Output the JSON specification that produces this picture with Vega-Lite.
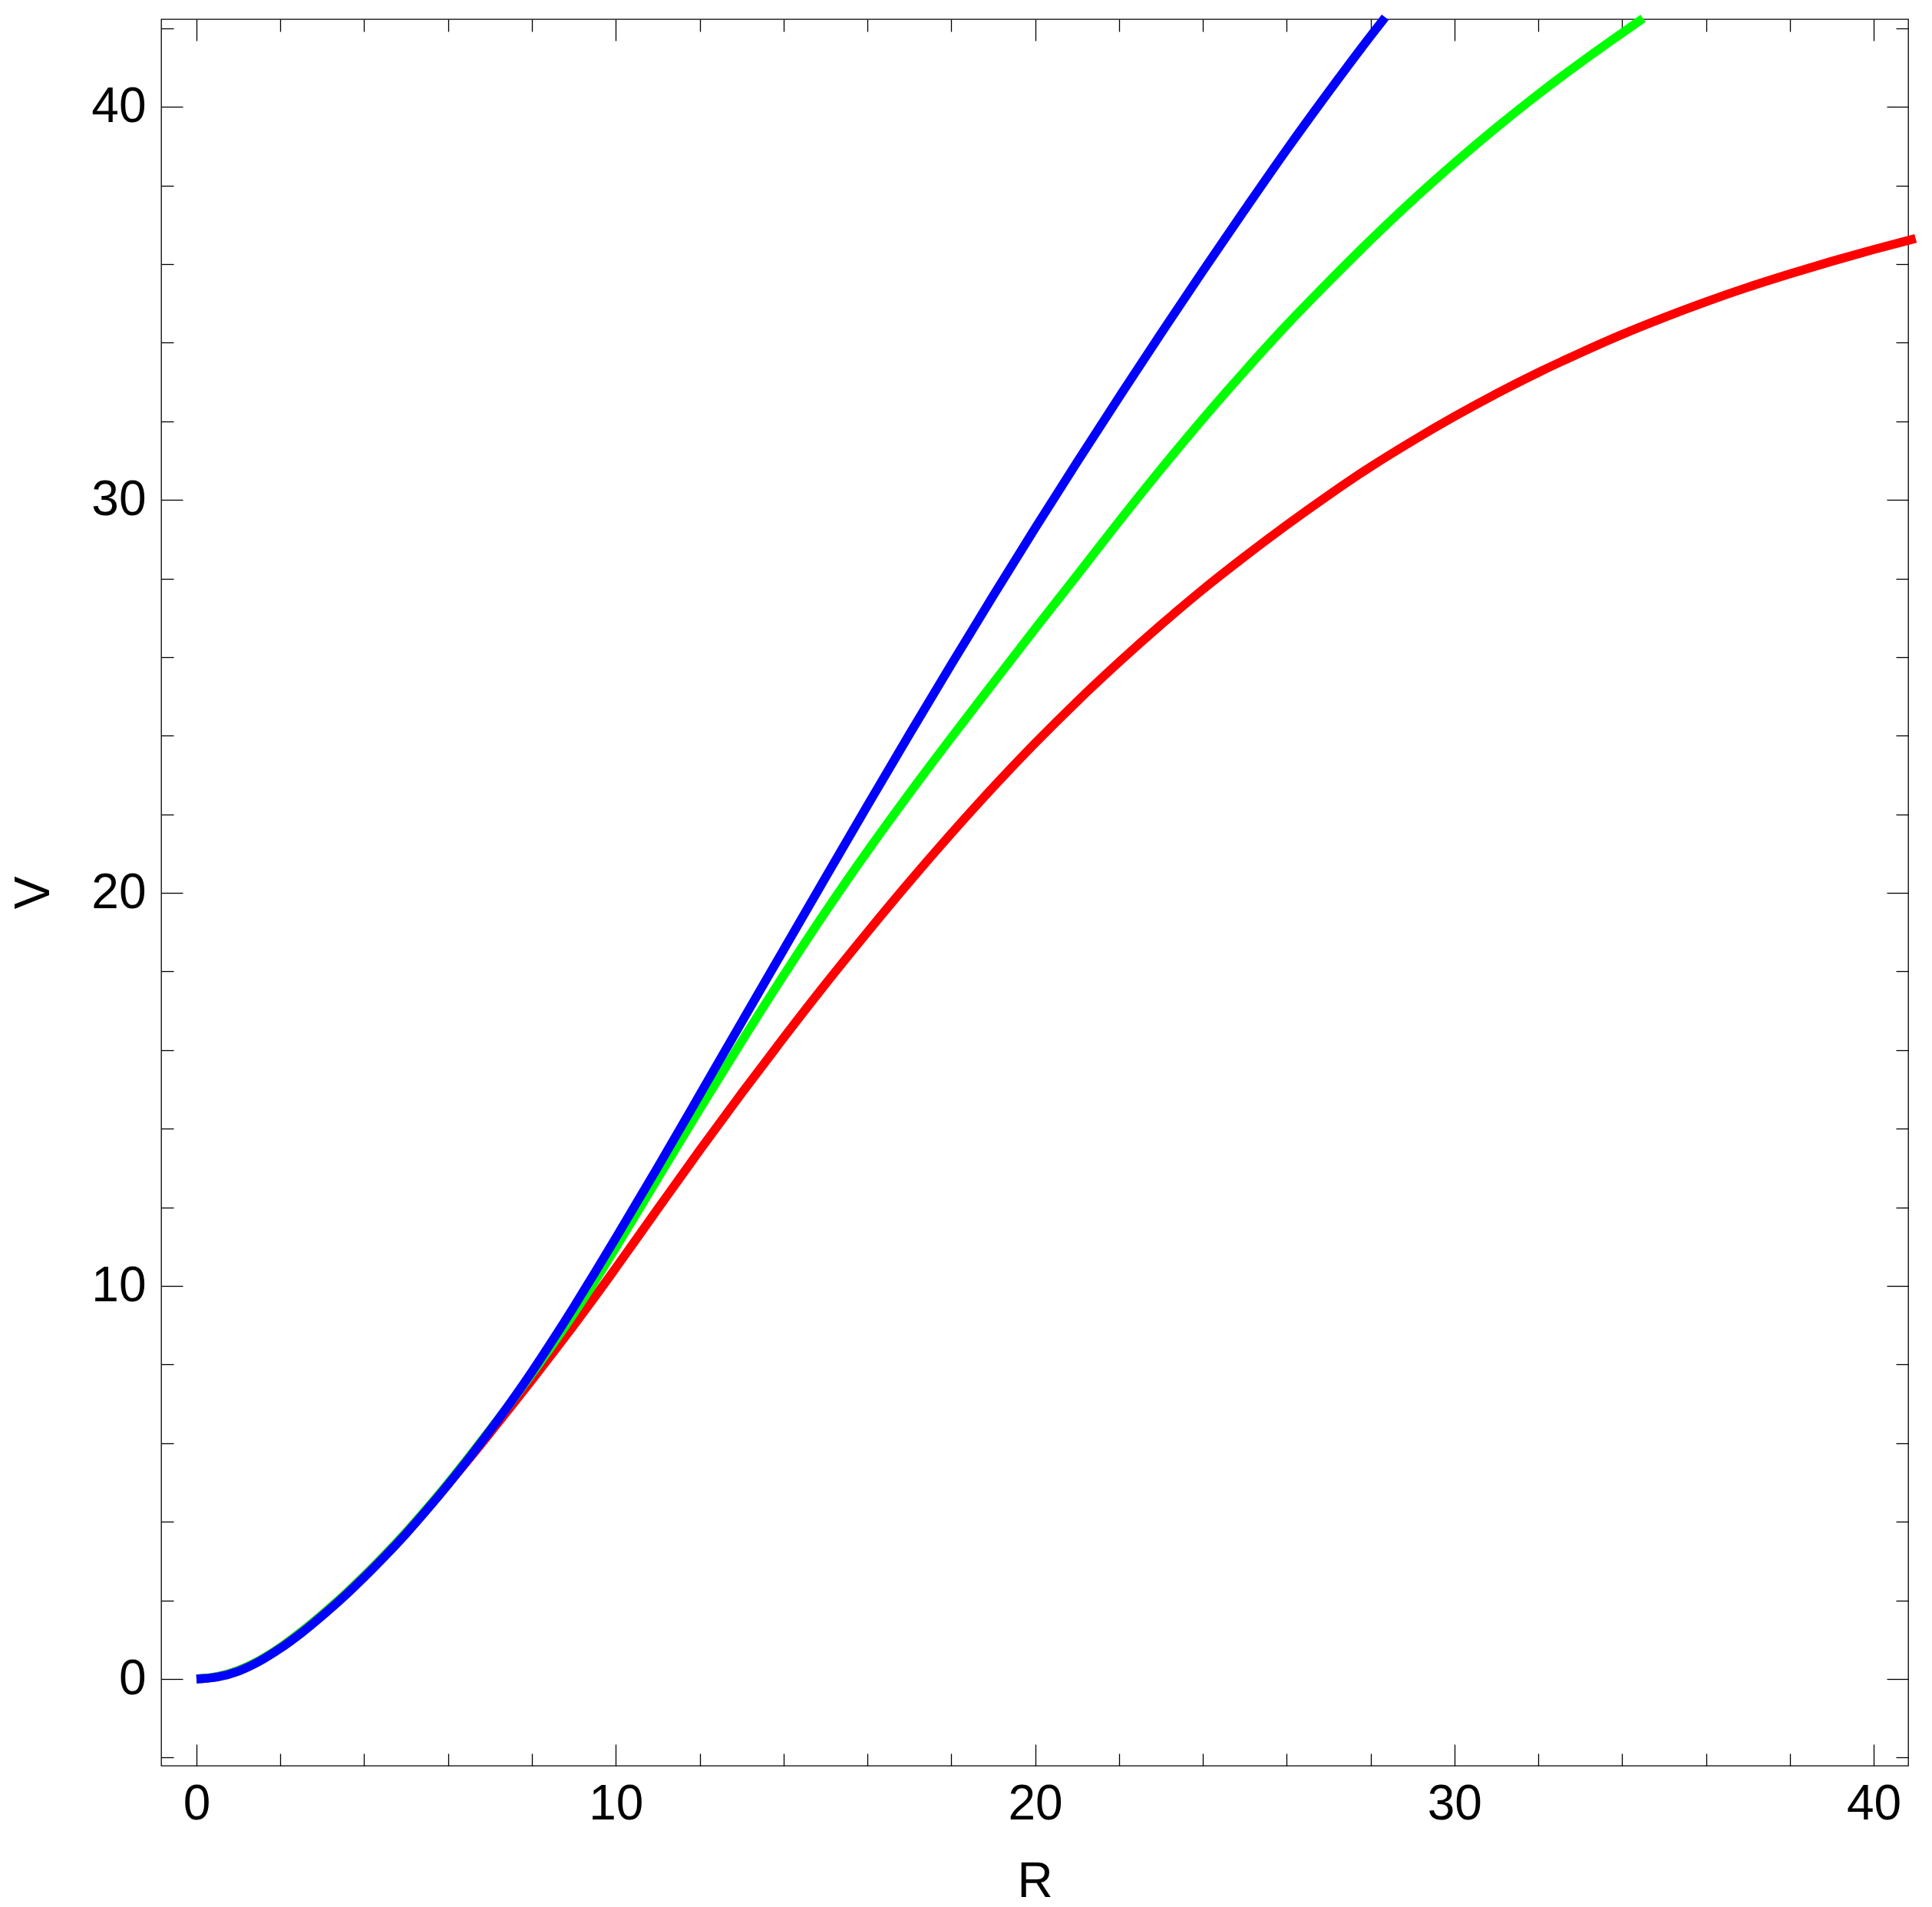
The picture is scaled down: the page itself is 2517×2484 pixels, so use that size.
{
  "$schema": "https://vega.github.io/schema/vega-lite/v6.json",
  "width": 2276,
  "height": 2275,
  "autosize": {"type": "none"},
  "padding": {"left": 210, "top": 25, "right": 31, "bottom": 184},
  "background": "white",
  "config": {
    "view": {"stroke": "black", "strokeWidth": 1.3},
    "font": "Liberation Sans",
    "axis": {
      "domain": false,
      "grid": false,
      "tickColor": "black",
      "tickWidth": 1.3,
      "labelFont": "Liberation Sans",
      "labelFontSize": 64,
      "labelColor": "black",
      "titleFont": "Liberation Sans",
      "titleFontSize": 64,
      "titleFontWeight": "normal",
      "titleColor": "black",
      "labelOverlap": false,
      "labelFlush": false,
      "labelBound": false
    }
  },
  "datasets": {
    "curves": [
      {"s": "red", "R": 0, "V": 0}, {"s": "red", "R": 0.5, "V": 0.06}, {"s": "red", "R": 1, "V": 0.22}, {"s": "red", "R": 1.5, "V": 0.47},
      {"s": "red", "R": 2, "V": 0.8}, {"s": "red", "R": 2.5, "V": 1.2}, {"s": "red", "R": 3, "V": 1.64}, {"s": "red", "R": 3.5, "V": 2.11},
      {"s": "red", "R": 4, "V": 2.62}, {"s": "red", "R": 4.5, "V": 3.16}, {"s": "red", "R": 5, "V": 3.73}, {"s": "red", "R": 5.5, "V": 4.33},
      {"s": "red", "R": 6, "V": 4.96}, {"s": "red", "R": 6.5, "V": 5.6}, {"s": "red", "R": 7, "V": 6.26}, {"s": "red", "R": 7.5, "V": 6.93},
      {"s": "red", "R": 8, "V": 7.61}, {"s": "red", "R": 8.5, "V": 8.3}, {"s": "red", "R": 9, "V": 9.0}, {"s": "red", "R": 9.5, "V": 9.72},
      {"s": "red", "R": 10, "V": 10.46}, {"s": "red", "R": 11, "V": 11.96}, {"s": "red", "R": 12, "V": 13.45}, {"s": "red", "R": 13, "V": 14.9},
      {"s": "red", "R": 14, "V": 16.31}, {"s": "red", "R": 15, "V": 17.68}, {"s": "red", "R": 16, "V": 19.0}, {"s": "red", "R": 17, "V": 20.28},
      {"s": "red", "R": 18, "V": 21.51}, {"s": "red", "R": 19, "V": 22.69}, {"s": "red", "R": 20, "V": 23.81}, {"s": "red", "R": 21, "V": 24.87},
      {"s": "red", "R": 22, "V": 25.87}, {"s": "red", "R": 23, "V": 26.82}, {"s": "red", "R": 24, "V": 27.72}, {"s": "red", "R": 25, "V": 28.56},
      {"s": "red", "R": 26, "V": 29.36}, {"s": "red", "R": 27, "V": 30.12}, {"s": "red", "R": 28, "V": 30.84}, {"s": "red", "R": 29, "V": 31.5},
      {"s": "red", "R": 30, "V": 32.12}, {"s": "red", "R": 31, "V": 32.7}, {"s": "red", "R": 32, "V": 33.24}, {"s": "red", "R": 33, "V": 33.74},
      {"s": "red", "R": 34, "V": 34.21}, {"s": "red", "R": 35, "V": 34.64}, {"s": "red", "R": 36, "V": 35.04}, {"s": "red", "R": 37, "V": 35.41},
      {"s": "red", "R": 38, "V": 35.75}, {"s": "red", "R": 39, "V": 36.07}, {"s": "red", "R": 40, "V": 36.37}, {"s": "red", "R": 41, "V": 36.65},

      {"s": "green", "R": 0, "V": 0}, {"s": "green", "R": 0.5, "V": 0.06}, {"s": "green", "R": 1, "V": 0.22}, {"s": "green", "R": 1.5, "V": 0.47},
      {"s": "green", "R": 2, "V": 0.8}, {"s": "green", "R": 2.5, "V": 1.2}, {"s": "green", "R": 3, "V": 1.64}, {"s": "green", "R": 3.5, "V": 2.11},
      {"s": "green", "R": 4, "V": 2.62}, {"s": "green", "R": 4.5, "V": 3.16}, {"s": "green", "R": 5, "V": 3.73}, {"s": "green", "R": 5.5, "V": 4.34},
      {"s": "green", "R": 6, "V": 4.98}, {"s": "green", "R": 6.5, "V": 5.65}, {"s": "green", "R": 7, "V": 6.34}, {"s": "green", "R": 7.5, "V": 7.04},
      {"s": "green", "R": 8, "V": 7.77}, {"s": "green", "R": 8.5, "V": 8.52}, {"s": "green", "R": 9, "V": 9.3}, {"s": "green", "R": 9.5, "V": 10.12},
      {"s": "green", "R": 10, "V": 10.98}, {"s": "green", "R": 11, "V": 12.74}, {"s": "green", "R": 12, "V": 14.5}, {"s": "green", "R": 13, "V": 16.22},
      {"s": "green", "R": 14, "V": 17.9}, {"s": "green", "R": 15, "V": 19.52}, {"s": "green", "R": 16, "V": 21.06}, {"s": "green", "R": 17, "V": 22.53},
      {"s": "green", "R": 18, "V": 23.95}, {"s": "green", "R": 19, "V": 25.34}, {"s": "green", "R": 20, "V": 26.72}, {"s": "green", "R": 21, "V": 28.08},
      {"s": "green", "R": 22, "V": 29.45}, {"s": "green", "R": 23, "V": 30.78}, {"s": "green", "R": 24, "V": 32.06}, {"s": "green", "R": 25, "V": 33.28},
      {"s": "green", "R": 26, "V": 34.45}, {"s": "green", "R": 27, "V": 35.55}, {"s": "green", "R": 28, "V": 36.61}, {"s": "green", "R": 29, "V": 37.62},
      {"s": "green", "R": 30, "V": 38.57}, {"s": "green", "R": 31, "V": 39.47}, {"s": "green", "R": 32, "V": 40.32}, {"s": "green", "R": 33, "V": 41.12},
      {"s": "green", "R": 34, "V": 41.88}, {"s": "green", "R": 34.5, "V": 42.25},

      {"s": "blue", "R": 0, "V": 0}, {"s": "blue", "R": 0.5, "V": 0.05}, {"s": "blue", "R": 1, "V": 0.2}, {"s": "blue", "R": 1.5, "V": 0.45},
      {"s": "blue", "R": 2, "V": 0.78}, {"s": "blue", "R": 2.5, "V": 1.17}, {"s": "blue", "R": 3, "V": 1.61}, {"s": "blue", "R": 3.5, "V": 2.08},
      {"s": "blue", "R": 4, "V": 2.59}, {"s": "blue", "R": 4.5, "V": 3.13}, {"s": "blue", "R": 5, "V": 3.7}, {"s": "blue", "R": 5.5, "V": 4.31},
      {"s": "blue", "R": 6, "V": 4.95}, {"s": "blue", "R": 6.5, "V": 5.62}, {"s": "blue", "R": 7, "V": 6.32}, {"s": "blue", "R": 7.5, "V": 7.05},
      {"s": "blue", "R": 8, "V": 7.82}, {"s": "blue", "R": 8.5, "V": 8.63}, {"s": "blue", "R": 9, "V": 9.47}, {"s": "blue", "R": 9.5, "V": 10.34},
      {"s": "blue", "R": 10, "V": 11.22}, {"s": "blue", "R": 11, "V": 13.02}, {"s": "blue", "R": 12, "V": 14.86}, {"s": "blue", "R": 13, "V": 16.71},
      {"s": "blue", "R": 14, "V": 18.55}, {"s": "blue", "R": 15, "V": 20.39}, {"s": "blue", "R": 16, "V": 22.22}, {"s": "blue", "R": 17, "V": 24.03},
      {"s": "blue", "R": 18, "V": 25.81}, {"s": "blue", "R": 19, "V": 27.56}, {"s": "blue", "R": 20, "V": 29.28}, {"s": "blue", "R": 21, "V": 30.96},
      {"s": "blue", "R": 22, "V": 32.61}, {"s": "blue", "R": 23, "V": 34.23}, {"s": "blue", "R": 24, "V": 35.82}, {"s": "blue", "R": 25, "V": 37.38},
      {"s": "blue", "R": 26, "V": 38.91}, {"s": "blue", "R": 27, "V": 40.38}, {"s": "blue", "R": 28, "V": 41.8}, {"s": "blue", "R": 28.35, "V": 42.28}
    ]
  },
  "data": {"name": "curves"},
  "layer": [
    {
      "encoding": {
        "x": {
          "field": "R", "type": "quantitative",
          "scale": {"domain": [-0.842, 40.823], "nice": false, "zero": false},
          "axis": {
            "orient": "bottom",
            "values": [0, 2, 4, 6, 8, 10, 12, 14, 16, 18, 20, 22, 24, 26, 28, 30, 32, 34, 36, 38, 40],
            "tickSize": {"condition": {"test": "datum.value % 10 === 0", "value": -28}, "value": -16},
            "labelExpr": "datum.value % 10 === 0 ? datum.label : ''",
            "labelPadding": 46,
            "title": "R",
            "titleY": 170,
            "titleBaseline": "alphabetic"
          }
        },
        "y": {
          "field": "V", "type": "quantitative",
          "scale": {"domain": [-2.207, 42.23], "nice": false, "zero": false},
          "axis": {
            "orient": "left",
            "values": [-2, 0, 2, 4, 6, 8, 10, 12, 14, 16, 18, 20, 22, 24, 26, 28, 30, 32, 34, 36, 38, 40, 42],
            "tickSize": {"condition": {"test": "datum.value % 10 === 0", "value": -28}, "value": -16},
            "labelExpr": "datum.value % 10 === 0 ? datum.label : ''",
            "labelPadding": 48,
            "title": "V",
            "titleX": -147,
            "titleBaseline": "alphabetic"
          }
        }
      },
      "layer": [
        {"transform": [{"filter": "datum.s === 'red'"}], "mark": {"type": "line", "color": "#ff0000", "strokeWidth": 11.5, "interpolate": "monotone", "strokeJoin": "round", "clip": false}},
        {"transform": [{"filter": "datum.s === 'green'"}], "mark": {"type": "line", "color": "#00ff00", "strokeWidth": 11.5, "interpolate": "monotone", "strokeJoin": "round", "clip": false}},
        {"transform": [{"filter": "datum.s === 'blue'"}], "mark": {"type": "line", "color": "#0000ff", "strokeWidth": 11.5, "interpolate": "monotone", "strokeJoin": "round", "clip": false}}
      ]
    },
    {
      "transform": [{"filter": "datum.s === 'red'"}],
      "mark": {"type": "line", "opacity": 0},
      "encoding": {
        "x": {
          "field": "R", "type": "quantitative",
          "axis": {
            "orient": "top",
            "values": [0, 2, 4, 6, 8, 10, 12, 14, 16, 18, 20, 22, 24, 26, 28, 30, 32, 34, 36, 38, 40],
            "tickSize": {"condition": {"test": "datum.value % 10 === 0", "value": -28}, "value": -16},
            "labels": false,
            "title": null
          }
        },
        "y": {
          "field": "V", "type": "quantitative",
          "axis": {
            "orient": "right",
            "values": [-2, 0, 2, 4, 6, 8, 10, 12, 14, 16, 18, 20, 22, 24, 26, 28, 30, 32, 34, 36, 38, 40, 42],
            "tickSize": {"condition": {"test": "datum.value % 10 === 0", "value": -28}, "value": -16},
            "labels": false,
            "title": null
          }
        }
      }
    }
  ],
  "resolve": {"axis": {"x": "independent", "y": "independent"}}
}
